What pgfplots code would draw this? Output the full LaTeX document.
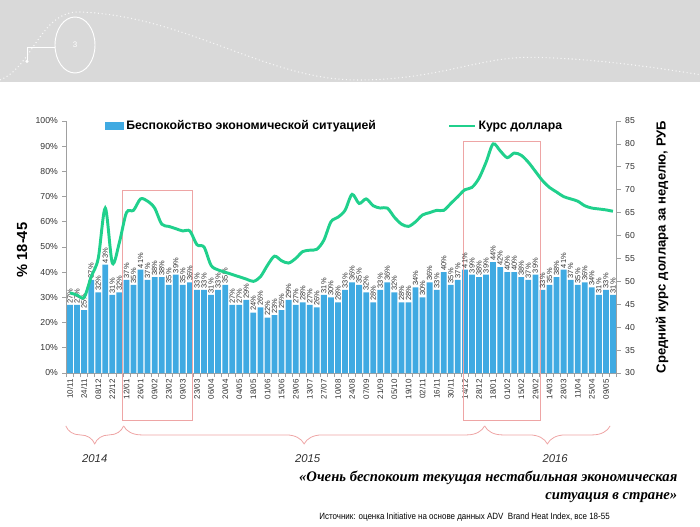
\documentclass[border=0pt]{standalone}
\usepackage{pgfplots}
\pgfplotsset{compat=1.18}
\usepackage{fontspec}
\setmainfont{Liberation Sans}
\newfontfamily\quotefont{Liberation Serif}
\newfontfamily\narrowfont[FakeStretch=0.88]{Liberation Sans}
\usetikzlibrary{decorations.pathreplacing}
\definecolor{barblue}{RGB}{64,170,226}
\definecolor{usdgreen}{RGB}{32,208,140}
\definecolor{axisgray}{RGB}{160,160,160}
\definecolor{txtgray}{RGB}{50,50,50}
\definecolor{boxred}{RGB}{238,165,165}
\definecolor{hdrgray}{RGB}{217,217,217}
\begin{document}
\begin{tikzpicture}
\path[use as bounding box] (0,0) rectangle (525pt,-395.25pt);
% header band
\fill[hdrgray] (0,0) rectangle (525pt,-61.5pt);
\draw[white, dotted, line width=0.8pt, opacity=0.8] (0pt,-60pt) .. controls (25pt,-50pt) and (30pt,-8pt) .. (60pt,-9pt) .. controls (140pt,-12pt) and (200pt,-60pt) .. (268pt,-60pt) .. controls (330pt,-60pt) and (360pt,-42pt) .. (401pt,-43pt) .. controls (450pt,-44pt) and (500pt,-52pt) .. (525pt,-56pt);
\draw[white, line width=0.7pt] (56.25pt,-33.75pt) ellipse (15pt and 21pt);
\node[text=white, font=\fontsize{6}{7}\selectfont] at (56.25pt,-33.75pt) {3};
\draw[white, line width=0.7pt] (20.25pt,-45pt) -- (20.25pt,-35.25pt) -- (41.25pt,-35.25pt);
\fill[white] (20.25pt,-46pt) circle (1.3pt);

\begin{axis}[
  at={(49.875pt,-279.75pt)}, anchor=south west,
  scale only axis, width=412.5pt, height=189pt,
  xmin=-0.5, xmax=77.5, ymin=0, ymax=100,
  axis x line*=bottom, axis y line*=left,
  axis line style={axisgray, line width=0.6pt},
  tick align=outside,
  major tick length=3pt, minor tick length=3pt,
  xtick={0,2,...,76},
  xticklabels={10/11,24/11,08/12,22/12,12/01,26/01,09/02,23/02,09/03,23/03,06/04,20/04,04/05,18/05,01/06,15/06,29/06,13/07,27/07,10/08,24/08,07/09,21/09,05/10,19/10,02/11,16/11,30/11,14/12,28/12,18/01,01/02,15/02,29/02,14/03,28/03,11/04,25/04,09/05},
  minor xtick={-0.5,0.5,...,77.5},
  major x tick style={draw=none},
  minor x tick style={axisgray, line width=0.5pt},
  xticklabel style={rotate=90, anchor=east, font=\fontsize{6}{7}\selectfont, text=txtgray, inner sep=1.5pt},
  ytick={0,10,...,100},
  yticklabel={\pgfmathprintnumber{\tick}\%},
  y tick style={axisgray, line width=0.5pt},
  yticklabel style={font=\fontsize{6.5}{7.5}\selectfont, text=txtgray},
  /pgf/number format/assume math mode=true,
  ylabel={\% 18-45},
  ylabel style={at={(axis description cs:-0.081,0.488)}, anchor=center, font=\bfseries\fontsize{11}{12}\selectfont},
  clip=false,
  legend columns=2,
  legend style={at={(axis description cs:0.488,0.98)}, anchor=center, draw=none, fill=none,
    font=\bfseries\fontsize{9.2}{10}\selectfont,
    /tikz/every even column/.append style={column sep=52pt},
    /tikz/every odd column/.append style={column sep=0pt}},
]
\addplot[ybar, bar width=0.82, fill=barblue, draw=none,
  legend image code/.code={\fill[barblue] (0pt,-3pt) rectangle (14pt,3pt);},
  nodes near coords={\pgfmathprintnumber{\pgfplotspointmeta}\%},
  nodes near coords style={rotate=90, anchor=west, font=\fontsize{5.6}{6}\selectfont, text=txtgray, inner sep=1pt},
] coordinates {
(0,27) (1,27) (2,25) (3,37) (4,32) (5,43) (6,31) (7,32) (8,37) (9,35)
(10,41) (11,37) (12,38) (13,38) (14,35) (15,39) (16,35) (17,36) (18,33) (19,33)
(20,31) (21,33) (22,35) (23,27) (24,27) (25,29) (26,24) (27,26) (28,22) (29,23)
(30,25) (31,29) (32,27) (33,28) (34,27) (35,26) (36,31) (37,30) (38,28) (39,33)
(40,36) (41,35) (42,32) (43,28) (44,33) (45,36) (46,32) (47,28) (48,28) (49,34)
(50,30) (51,36) (52,33) (53,40) (54,35) (55,37) (56,41) (57,39) (58,38) (59,39)
(60,44) (61,42) (62,40) (63,40) (64,38) (65,37) (66,39) (67,33) (68,35) (69,38)
(70,41) (71,37) (72,35) (73,36) (74,34) (75,31) (76,33) (77,31)
};
\addlegendentry{Беспокойство экономической ситуацией}
\addlegendimage{legend image code/.code={\draw[usdgreen, line width=2pt] (0pt,0pt) -- (19pt,0pt);}}
\addlegendentry{Курс доллара}
% highlight boxes
\draw[boxred, line width=0.6pt] (axis cs:7.4,-18.7) rectangle (axis cs:17.4,72.6);
\draw[boxred, line width=0.6pt] (axis cs:55.8,-18.7) rectangle (axis cs:66.7,92.1);
% year braces
\draw[boxred, line width=0.6pt, decorate, decoration={brace, mirror, amplitude=13.5pt}] (axis cs:-0.6,-21) -- (axis cs:7.6,-21);
\draw[boxred, line width=0.6pt, decorate, decoration={brace, mirror, amplitude=13.5pt}] (axis cs:7.6,-21) -- (axis cs:58.8,-21);
\draw[boxred, line width=0.6pt, decorate, decoration={brace, mirror, amplitude=13.5pt}] (axis cs:58.8,-21) -- (axis cs:76.6,-21);
\node[font=\itshape\fontsize{8.5}{10}\selectfont, text=txtgray] at (axis cs:3.5,-34) {2014};
\node[font=\itshape\fontsize{8.5}{10}\selectfont, text=txtgray] at (axis cs:33.7,-34) {2015};
\node[font=\itshape\fontsize{8.5}{10}\selectfont, text=txtgray] at (axis cs:68.8,-34) {2016};
\end{axis}

\begin{axis}[
  at={(49.875pt,-279.75pt)}, anchor=south west,
  scale only axis, width=412.5pt, height=189pt,
  xmin=-0.5, xmax=77.5, ymin=30, ymax=85,
  axis x line=none, axis y line*=right,
  axis line style={axisgray, line width=0.6pt},
  tick align=outside, major tick length=3pt,
  ytick={30,35,...,85},
  y tick style={axisgray, line width=0.5pt},
  yticklabel style={font=\fontsize{6.5}{7.5}\selectfont, text=txtgray},
  /pgf/number format/assume math mode=true,
  ylabel={Средний курс доллара за неделю, РУБ},
  ylabel style={at={(axis description cs:1.083,0.5)}, anchor=center, font=\bfseries\fontsize{9.8}{11}\selectfont},
  clip=false,
]
\addplot[usdgreen, line width=2.2pt, smooth, tension=0.5, mark=none] coordinates {
(0,47.5) (1,47) (2,46.5) (3,51) (4,55) (5,66) (6,54) (7,58.5) (8,65) (9,65.5)
(10,68) (11,67.5) (12,66) (13,62.5) (14,62) (15,61.5) (16,61) (17,61) (18,58) (19,57.5)
(20,53.5) (21,52.5) (22,52) (23,51.5) (24,51) (25,50.5) (26,50) (27,51) (28,53.5) (29,55.5)
(30,54.5) (31,54) (32,55) (33,56.5) (34,56.8) (35,57) (36,59) (37,63) (38,64) (39,65.5)
(40,69) (41,67) (42,68) (43,66.5) (44,66) (45,66) (46,64) (47,62.5) (48,62) (49,63)
(50,64.5) (51,65) (52,65.5) (53,65.5) (54,67) (55,68.5) (56,70) (57,70.5) (58,72.5) (59,76)
(60,80) (61,78.5) (62,77) (63,78) (64,77.5) (65,76) (66,74) (67,72) (68,70.5) (69,69.5)
(70,68.5) (71,68) (72,67.5) (73,66.5) (74,66) (75,65.8) (76,65.6) (77,65.3)
};
\end{axis}

% quote and source
\node[anchor=east, align=right, font=\quotefont\bfseries\itshape\fontsize{11}{13.5}\selectfont] at (511.5pt,-365.25pt) {«Очень беспокоит текущая нестабильная экономическая\\ситуация в стране»};
\node[anchor=west, font=\narrowfont\fontsize{6.8}{7.5}\selectfont] at (236pt,-387.75pt) {Источник: оценка Initiative на основе данных ADV\ \ Brand Heat Index, все 18-55};
\end{tikzpicture}
\end{document}
